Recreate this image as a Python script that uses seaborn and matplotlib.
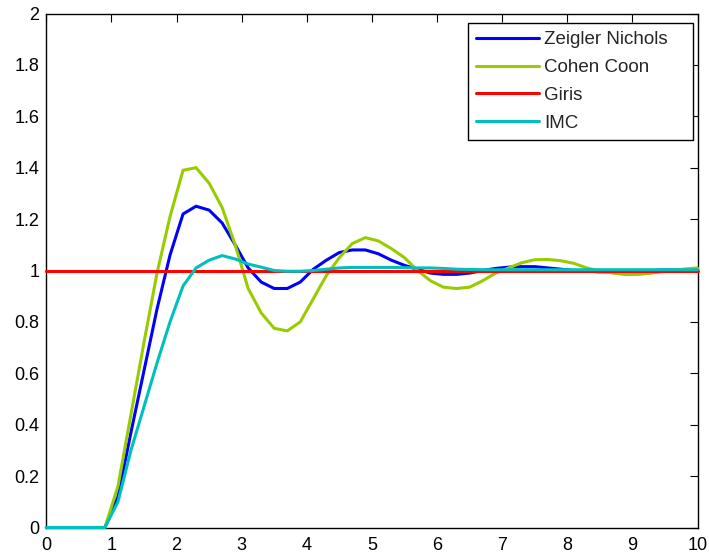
import numpy as np
import pandas as pd
import matplotlib
matplotlib.use("Agg")
import matplotlib.pyplot as plt
import seaborn as sns
from matplotlib.ticker import FuncFormatter

# ---- data ----
t = [0.0, 0.9, 1.1, 1.3, 1.5, 1.7, 1.9, 2.1, 2.3, 2.5, 2.7, 2.9, 3.1, 3.3, 3.5,
     3.7, 3.9, 4.1, 4.3, 4.5, 4.7, 4.9, 5.1, 5.3, 5.5, 5.7, 5.9, 6.1, 6.3, 6.5,
     6.7, 6.9, 7.1, 7.3, 7.5, 7.7, 7.9, 8.1, 8.3, 8.5, 8.7, 8.9, 9.1, 9.3, 9.5,
     9.7, 9.9, 10.0]

zeigler_nichols = [0.0, 0.0, 0.12, 0.37, 0.61, 0.85, 1.06, 1.22, 1.25, 1.235, 1.185,
                   1.10, 1.01, 0.955, 0.93, 0.93, 0.955, 1.005, 1.04, 1.07, 1.08,
                   1.08, 1.065, 1.04, 1.02, 1.005, 0.99, 0.985, 0.985, 0.99, 1.0,
                   1.008, 1.013, 1.015, 1.015, 1.01, 1.005, 1.0, 0.997, 0.995,
                   0.995, 0.997, 1.0, 1.0, 1.002, 1.002, 1.002, 1.002]

cohen_coon = [0.0, 0.0, 0.16, 0.44, 0.72, 0.99, 1.21, 1.39, 1.40, 1.34, 1.245,
              1.10, 0.93, 0.835, 0.775, 0.765, 0.80, 0.89, 0.98, 1.05, 1.105,
              1.128, 1.115, 1.085, 1.05, 1.0, 0.96, 0.935, 0.93, 0.935, 0.96,
              0.99, 1.01, 1.03, 1.042, 1.043, 1.038, 1.028, 1.01, 0.998, 0.99,
              0.984, 0.985, 0.99, 0.997, 1.003, 1.008, 1.01]

imc = [0.0, 0.0, 0.10, 0.30, 0.47, 0.64, 0.80, 0.94, 1.01, 1.04, 1.058, 1.045,
       1.025, 1.013, 1.0, 0.997, 0.997, 1.0, 1.005, 1.01, 1.012, 1.012, 1.012,
       1.012, 1.011, 1.01, 1.01, 1.008, 1.005, 1.004, 1.003, 1.003, 1.003,
       1.003, 1.003, 1.003, 1.003, 1.003, 1.003, 1.003, 1.003, 1.003, 1.003,
       1.003, 1.003, 1.003, 1.003, 1.003]

t_giris = [0.0, 10.0]
giris = [1.0, 1.0]

labels = ["Zeigler Nichols", "Cohen Coon", "Giris", "IMC"]
colors = ["#0000FF", "#99CC00", "#FF0000", "#00BFBF"]
x_ticks = [0, 1, 2, 3, 4, 5, 6, 7, 8, 9, 10]
y_ticks = [0, 0.2, 0.4, 0.6, 0.8, 1.0, 1.2, 1.4, 1.6, 1.8, 2.0]

frames = [
    pd.DataFrame({"t": t, "y": zeigler_nichols, "method": labels[0]}),
    pd.DataFrame({"t": t, "y": cohen_coon, "method": labels[1]}),
    pd.DataFrame({"t": t_giris, "y": giris, "method": labels[2]}),
    pd.DataFrame({"t": t, "y": imc, "method": labels[3]}),
]
df = pd.concat(frames, ignore_index=True)

# ---- style ----
sns.set_style("white")
plt.rcParams["font.family"] = ["Liberation Sans", "DejaVu Sans"]

W, H = 709, 557
fig = plt.figure(figsize=(W / 100, H / 100), dpi=100)
ax = fig.add_axes([46.3 / W, 29.5 / H, 651.2 / W, 514.0 / H])

sns.lineplot(data=df, x="t", y="y", hue="method", hue_order=labels,
             palette=dict(zip(labels, colors)), estimator=None, sort=False,
             linewidth=2.2, ax=ax, legend=True)

for ln in ax.get_lines():
    ln.set_clip_on(False)
    ln.set_zorder(3)
    ln.set_solid_joinstyle("miter")

ax.set_xlim(0, 10)
ax.set_ylim(0, 2)
ax.set_xticks(x_ticks)
ax.set_yticks(y_ticks)
ax.xaxis.set_major_formatter(FuncFormatter(lambda v, p: f"{v:g}"))
ax.yaxis.set_major_formatter(FuncFormatter(lambda v, p: f"{v:g}"))
ax.set_xlabel("")
ax.set_ylabel("")

ax.tick_params(axis="both", which="major", direction="in", length=5.5,
               width=0.8, labelsize=13, colors="black",
               top=True, right=True)
ax.tick_params(axis="x", pad=7)
ax.tick_params(axis="y", pad=5)
for sp in ax.spines.values():
    sp.set_visible(True)
    sp.set_color("black")
    sp.set_linewidth(1.0)

# legend frame in the reference: x 468..693, top at y=23.3 (pixels)
lx0, lx1, ltop = 468 / W, 693 / W, 1 - 23.3 / H
leg = ax.legend(loc="upper left", fontsize=13.5, frameon=True, fancybox=False,
                edgecolor="black", framealpha=1.0, handlelength=3.35,
                handletextpad=0.27, borderpad=0.42, labelspacing=0.57,
                borderaxespad=0.0, mode="expand",
                bbox_to_anchor=(lx0, ltop - 0.3, lx1 - lx0, 0.3),
                bbox_transform=fig.transFigure)
leg.get_frame().set_linewidth(1.0)
for h in leg.get_lines():
    h.set_linewidth(2.2)

fig.savefig("out.png", dpi=100)
